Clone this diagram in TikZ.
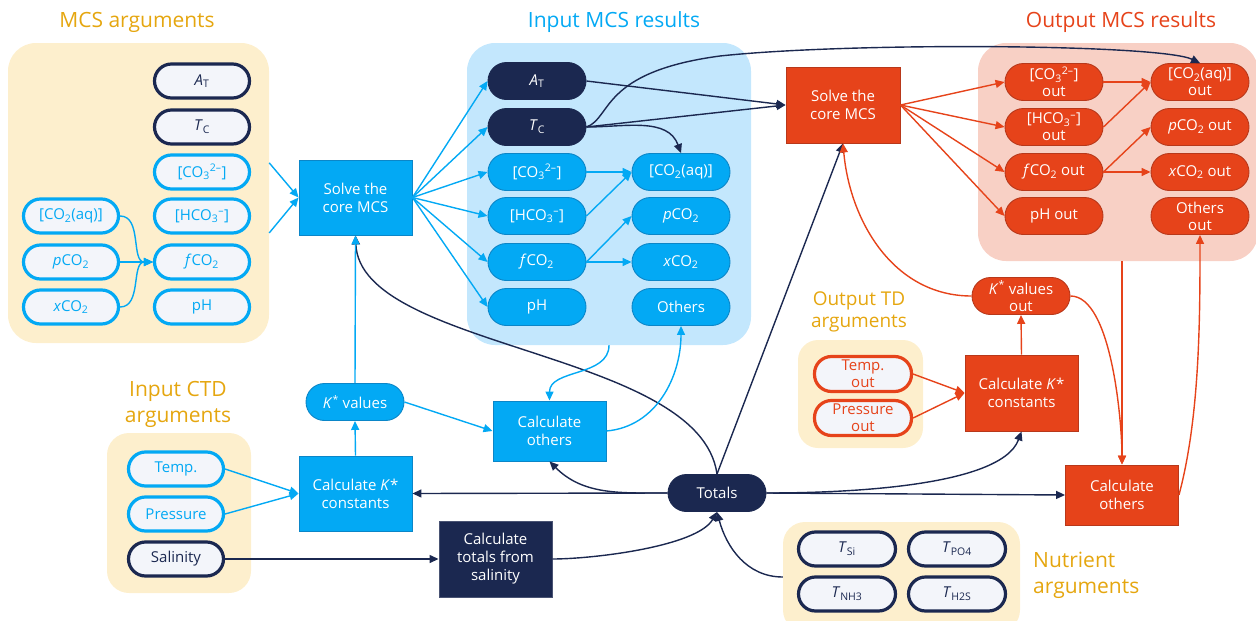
\documentclass[tikz,border=0pt]{standalone}
\usepackage{fontspec}
\setmainfont{Open Sans}
\usetikzlibrary{arrows.meta}
\definecolor{mynavy}{HTML}{1B2850}
\definecolor{cyanc}{HTML}{03A9F4}
\definecolor{cyand}{HTML}{0B86C8}
\definecolor{orng}{HTML}{E6431A}
\definecolor{orngd}{HTML}{B8381A}
\definecolor{gold}{HTML}{E5A60F}
\definecolor{ybg}{HTML}{FDEFCD}
\definecolor{bbg}{HTML}{C3E7FD}
\definecolor{pbg}{HTML}{F8D0C5}
\definecolor{lfill}{HTML}{F3F5FA}
\begin{document}
\begin{tikzpicture}[x=1pt,y=-1pt,
  grp/.style={rounded corners=28pt, inner sep=0pt},
  ttl/.style={font=\fontsize{21}{26}\selectfont, align=center, inner sep=0pt},
  pill/.style={rounded corners=18.5pt, minimum width=98pt, minimum height=37pt, inner sep=0pt, align=center, font=\fontsize{15}{17}\selectfont},
  pillW/.style={pill, fill=lfill, line width=3.2pt, minimum width=95pt, minimum height=34pt, rounded corners=17pt},
  pillF/.style={pill, line width=0.9pt},
  pillN/.style={pillF, fill=mynavy, draw=mynavy, text=white},
  pillC/.style={pillF, fill=cyanc, draw=cyand, text=white},
  pillO/.style={pillF, fill=orng, draw=orngd, text=white},
  box/.style={minimum width=113pt, minimum height=75pt, inner sep=0pt, align=center, font=\fontsize{15}{18}\selectfont, line width=0.9pt, text=white},
  tip/.style={-{Triangle[length=9pt,width=8pt]}, line width=1.4pt},
  ce/.style={tip, draw=cyanc, color=cyanc},
  ne/.style={tip, draw=mynavy, color=mynavy},
  oe/.style={tip, draw=orng, color=orng}]
\useasboundingbox (0,0) rectangle (1256,621);
% group backgrounds
\node[grp, fill=ybg, minimum width=261pt, minimum height=300pt] (gMCS) at (138.5,193) {};
\node[grp, fill=bbg, minimum width=284pt, minimum height=302pt] (gIn) at (609,194) {};
\node[grp, fill=pbg, minimum width=280pt, minimum height=218pt] (gOut) at (1118,152) {};
\node[grp, fill=ybg, rounded corners=22pt, minimum width=144pt, minimum height=160pt] (gCTD) at (179,513) {};
\node[grp, fill=ybg, rounded corners=20pt, minimum width=125pt, minimum height=108pt] (gTD) at (860.5,394) {};
\node[grp, fill=ybg, rounded corners=22pt, minimum width=237pt, minimum height=110pt] (gNut) at (901.5,577) {};
% titles
\node[ttl, text=gold] (tMCS) at (137,22) {MCS arguments};
\node[ttl, text=cyanc] (tIn) at (614,22) {Input MCS results};
\node[ttl, text=orng] (tOut) at (1121,22) {Output MCS results};
\node[ttl, text=gold] (tCTD) at (178,404) {Input CTD\\arguments};
\node[ttl, text=gold, font=\fontsize{19}{22}\selectfont] (tTD) at (859,312) {Output TD\\arguments};
\node[ttl, text=gold, align=left, anchor=west] (tNut) at (1033,575) {Nutrient\\arguments};
% MCS arguments
\node[pillW, draw=mynavy, text=mynavy] (aAT) at (202,81) {\textit{A}\textsubscript{T}};
\node[pillW, draw=mynavy, text=mynavy] (aTC) at (202,127) {\textit{T}\textsubscript{C}};
\node[pillW, draw=cyanc, text=cyanc] (aCO3) at (202,172) {[CO\textsubscript{3}\textsuperscript{2–}]};
\node[pillW, draw=cyanc, text=cyanc] (aHCO3) at (202,216) {[HCO\textsubscript{3}\textsuperscript{–}]};
\node[pillW, draw=cyanc, text=cyanc] (afCO2) at (202,262) {\textit{f}CO\textsubscript{2}};
\node[pillW, draw=cyanc, text=cyanc] (apH) at (202,307) {pH};
\node[pillW, draw=cyanc, text=cyanc] (aCO2aq) at (71,216) {[CO\textsubscript{2}(aq)]};
\node[pillW, draw=cyanc, text=cyanc] (apCO2) at (71,262) {\textit{p}CO\textsubscript{2}};
\node[pillW, draw=cyanc, text=cyanc] (axCO2) at (71,307) {\textit{x}CO\textsubscript{2}};
% input MCS results
\node[box, fill=cyanc, draw=cyand] (iSolve) at (355.5,197.5) {Solve the\\core MCS};
\node[pillN] (iAT) at (537,81) {\textit{A}\textsubscript{T}};
\node[pillN] (iTC) at (537,127) {\textit{T}\textsubscript{C}};
\node[pillC] (iCO3) at (537,172) {[CO\textsubscript{3}\textsuperscript{2–}]};
\node[pillC] (iHCO3) at (537,216) {[HCO\textsubscript{3}\textsuperscript{–}]};
\node[pillC] (ifCO2) at (537,262) {\textit{f}CO\textsubscript{2}};
\node[pillC] (ipH) at (537,307) {pH};
\node[pillC] (iCO2aq) at (681,172) {[CO\textsubscript{2}(aq)]};
\node[pillC] (ipCO2) at (681,216) {\textit{p}CO\textsubscript{2}};
\node[pillC] (ixCO2) at (681,262) {\textit{x}CO\textsubscript{2}};
\node[pillC] (iOthers) at (681,307) {Others};
% output MCS results
\node[box, fill=orng, draw=orngd, minimum width=114pt, minimum height=76pt] (oSolve) at (843,105) {Solve the\\core MCS};
\node[pillO] (oCO3) at (1054,82) {[CO\textsubscript{3}\textsuperscript{2–}]\\out};
\node[pillO] (oHCO3) at (1054,127) {[HCO\textsubscript{3}\textsuperscript{–}]\\out};
\node[pillO] (ofCO2) at (1054,172) {\textit{f}CO\textsubscript{2} out};
\node[pillO] (opH) at (1054,216) {pH out};
\node[pillO] (oCO2aq) at (1200,82) {[CO\textsubscript{2}(aq)]\\out};
\node[pillO] (opCO2) at (1200,127) {\textit{p}CO\textsubscript{2} out};
\node[pillO] (oxCO2) at (1200,172) {\textit{x}CO\textsubscript{2} out};
\node[pillO] (oOthers) at (1200,216) {Others\\out};
% lower right
\node[pillO] (oKv) at (1021,296) {\textit{K}\textsuperscript{*} values\\out};
\node[box, fill=orng, draw=orngd, minimum height=76pt] (oCalcK) at (1021.5,393) {Calculate \textit{K}*\\constants};
\node[box, fill=orng, draw=orngd, minimum height=60pt] (oCalcO) at (1122,495) {Calculate\\others};
\node[pillW, draw=orng, text=orng, minimum width=97pt, minimum height=35pt] (oTemp) at (863,374) {Temp.\\out};
\node[pillW, draw=orng, text=orng, minimum width=97pt, minimum height=35pt] (oPres) at (863,418) {Pressure\\out};
% lower left / middle
\node[pillC] (iKv) at (355,402) {\textit{K}\textsuperscript{*} values};
\node[box, fill=cyanc, draw=cyand] (iCalcK) at (355.5,493.5) {Calculate \textit{K}*\\constants};
\node[box, fill=cyanc, draw=cyand, minimum height=60pt] (iCalcO) at (549.5,431) {Calculate\\others};
\node[pillW, draw=cyanc, text=cyanc] (temp) at (176,469) {Temp.};
\node[pillW, draw=cyanc, text=cyanc] (pressure) at (176,514) {Pressure};
\node[pillW, draw=mynavy, text=mynavy] (salinity) at (176,559) {Salinity};
\node[box, fill=mynavy, draw=mynavy!80!white, minimum height=76pt] (salCalc) at (495.5,559) {Calculate\\totals from\\salinity};
\node[pillN] (totals) at (717,493) {Totals};
% nutrients
\node[pillW, draw=mynavy, text=mynavy, minimum width=97pt] (nSi) at (847,549) {\textit{T}\textsubscript{Si}};
\node[pillW, draw=mynavy, text=mynavy, minimum width=97pt] (nPO) at (957,549) {\textit{T}\textsubscript{PO4}};
\node[pillW, draw=mynavy, text=mynavy, minimum width=97pt] (nNH) at (847,594) {\textit{T}\textsubscript{NH3}};
\node[pillW, draw=mynavy, text=mynavy, minimum width=97pt] (nHS) at (957,594) {\textit{T}\textsubscript{H2S}};
% ---------- navy edges
\draw[ne] (iAT.east) -- (oSolve.west);
\draw[ne] (iTC.east) -- (oSolve.west);
\draw[ne] (iTC.east) to[out=0,in=110] (iCO2aq.north);
\draw[ne] (iTC.east) .. controls (612,118) and (600,72) .. (720,56) .. controls (850,42) and (1160,44) .. (oCO2aq.north);
\draw[ne] (totals.north) .. controls (700,350) and (360,350) .. (iSolve.south);
\draw[ne] (totals.north) -- (oSolve.south);
\draw[ne] (totals.west) -- (iCalcK.east);
\draw[ne] (totals.west) to[out=180,in=-45] (iCalcO.south);
\draw[ne] (totals.east) to[out=0,in=-110,looseness=0.6] (oCalcK.south);
\draw[ne] (totals.east) -- (oCalcO.west);
\draw[ne] (salinity.east) -- (salCalc.west);
\draw[ne] (salCalc.east) to[out=0,in=-120,looseness=0.6] (totals.south);
\draw[ne] (gNut.west) to[out=180,in=-75] (totals.south);
% ---------- cyan edges
\draw[ce] (aCO2aq.east) to[out=0,in=180] (afCO2.west);
\draw[ce] (apCO2.east) -- (afCO2.west);
\draw[ce] (axCO2.east) to[out=0,in=180] (afCO2.west);
\draw[ce] (gMCS.13) -- (iSolve.west);
\draw[ce] (gMCS.-17) -- (iSolve.west);
\foreach \t in {iAT,iTC,iCO3,iHCO3,ifCO2,ipH} \draw[ce] (iSolve.east) -- (\t.west);
\draw[ce] (iCO3.east) -- (iCO2aq.west);
\draw[ce] (iHCO3.east) -- (iCO2aq.west);
\draw[ce] (ifCO2.east) -- (ipCO2.west);
\draw[ce] (ifCO2.east) -- (ixCO2.west);
\draw[ce] (iCalcK.north) -- (iKv.south);
\draw[ce] (iKv.north) -- (iSolve.south);
\draw[ce] (iKv.east) -- (iCalcO.west);
\draw[ce] (gIn.south) to[out=-90,in=90] (iCalcO.north);
\draw[ce] (iCalcO.east) to[out=5,in=-90] (iOthers.south);
\draw[ce] (temp.east) -- (iCalcK.west);
\draw[ce] (pressure.east) -- (iCalcK.west);
% ---------- orange edges
\foreach \t in {oCO3,oHCO3,ofCO2,opH} \draw[oe] (oSolve.east) -- (\t.west);
\draw[oe] (oCO3.east) -- (oCO2aq.west);
\draw[oe] (oHCO3.east) -- (oCO2aq.west);
\draw[oe] (ofCO2.east) -- (opCO2.west);
\draw[oe] (ofCO2.east) -- (oxCO2.west);
\draw[oe] (oKv.west) to[out=180,in=-85] (oSolve.south);
\draw[oe] (oCalcK.north) -- (oKv.south);
\draw[oe] (oKv.east) to[out=0,in=90,looseness=0.6] (oCalcO.north);
\draw[oe] (oCalcO.north |- gOut.south) -- (oCalcO.north);
\draw[oe] (oCalcO.east) to[out=75,in=-90,looseness=0.8] (oOthers.south);
\draw[oe] (oTemp.east) -- (oCalcK.west);
\draw[oe] (oPres.east) -- (oCalcK.west);
\end{tikzpicture}
\end{document}
